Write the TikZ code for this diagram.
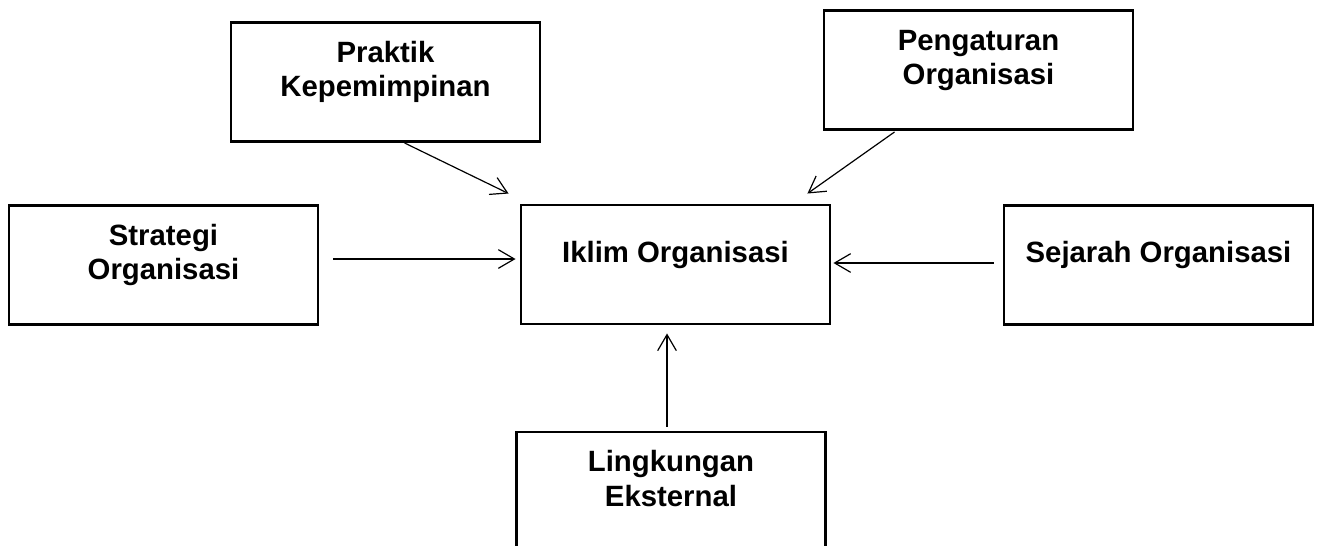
\documentclass[tikz,border=0pt]{standalone}
\usepackage{fontspec}
\setmainfont{Liberation Sans}
\usetikzlibrary{arrows.meta,calc}
\newcommand\bxtext[1]{\raisebox{7pt}[\height][\depth]{\begin{tabular}{@{}c@{}}#1\end{tabular}}}
\begin{document}
\begin{tikzpicture}[x=0.75pt,y=-0.75pt,
  box/.style={draw=black,line width=2.2pt,rectangle,inner sep=0pt,
    minimum width=231.75pt,minimum height=89.25pt,
    font=\fontsize{22}{26}\selectfont\bfseries},
  conn/.style={line width=0.9pt,-{Straight Barb[length=12pt,width=14pt,line width=0.9pt]}}]
\clip (0,0) rectangle (1318,546);
\fill[white] (0,0) rectangle (1318,546);
\node[box] (praktik) at (385.5,82) {\bxtext{Praktik\\Kepemimpinan}};
\node[box] (pengaturan) at (978.5,70) {\bxtext{Pengaturan\\Organisasi}};
\node[box] (strategi) at (163.5,265) {\bxtext{Strategi\\Organisasi}};
\node[box] (iklim) at (675.5,264.5) {\bxtext{Iklim Organisasi}};
\node[box] (sejarah) at (1158.5,265) {\bxtext{Sejarah Organisasi}};
\node[box] (lingkungan) at (671,491.5) {\bxtext{Lingkungan\\Eksternal}};
\draw[conn] ($(praktik.south west)+(175,0)$) -- ($(iklim.north west)+(-11,-10)$);
\draw[conn] ($(pengaturan.south west)+(72,1)$) -- ($(iklim.north east)+(-24,-10)$);
\draw[conn] ($(strategi.east)+(14,-6)$) -- ($(iklim.west)+(-4,-5.5)$);
\draw[conn] ($(sejarah.west)+(-9,-2)$) -- ($(iklim.east)+(2,-1.5)$);
\draw[conn] ($(lingkungan.north)+(-4,-4)$) -- ($(iklim.south)+(-8.5,8)$);
\end{tikzpicture}
\end{document}
